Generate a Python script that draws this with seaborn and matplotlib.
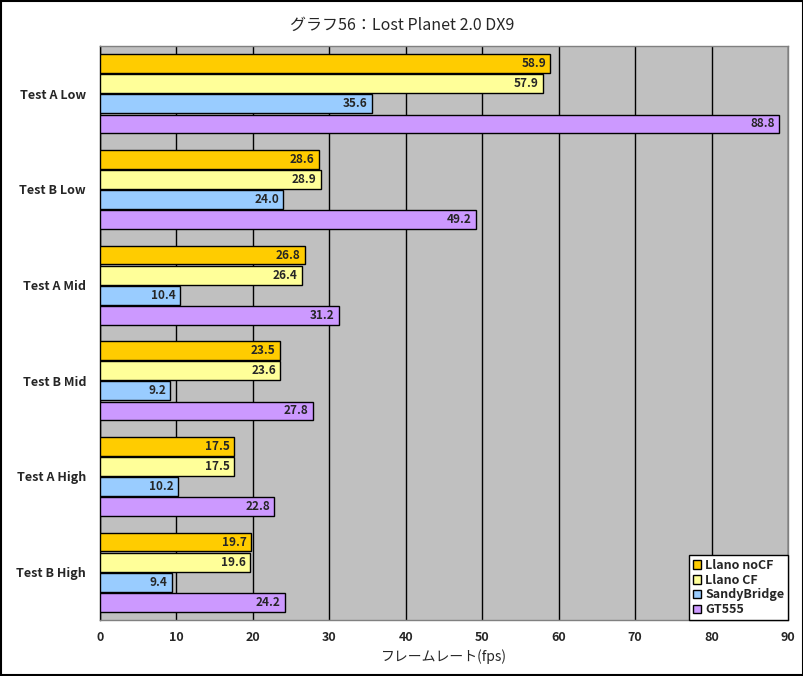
import pandas as pd
import matplotlib.pyplot as plt
import seaborn as sns
import numpy as np

# データ
tests = ["Test A Low", "Test B Low", "Test A Mid", "Test B Mid", "Test A High", "Test B High"]
series = ["Llano noCF", "Llano CF", "SandyBridge", "GT555"]
llano_nocf = [58.9, 28.6, 26.8, 23.5, 17.5, 19.7]
llano_cf = [57.9, 28.9, 26.4, 23.6, 17.5, 19.6]
sandybridge = [35.6, 24.0, 10.4, 9.2, 10.2, 9.4]
gt555 = [88.8, 49.2, 31.2, 27.8, 22.8, 24.2]
colors = ["#FFCC00", "#FFFF99", "#99CCFF", "#CC99FF"]

sns.set_theme(style="white")
plt.rcParams['font.family'] = ['Noto Sans CJK JP', 'DejaVu Sans']
plt.rcParams['axes.unicode_minus'] = False

rows = []
for name, vals in zip(series, [llano_nocf, llano_cf, sandybridge, gt555]):
    for t, v in zip(tests, vals):
        rows.append({"test": t, "series": name, "fps": v})
df = pd.DataFrame(rows)

fig = plt.figure(figsize=(8.04, 6.76), dpi=100)
ax = fig.add_axes([100/804, 1 - 620/676, 688/804, 574/676])
ax.set_facecolor("#C0C0C0")

sns.barplot(data=df, y="test", x="fps", hue="series", order=tests, hue_order=series,
            palette=colors, orient="h", width=0.84, gap=0.06, edgecolor="black",
            linewidth=1, saturation=1, errorbar=None, ax=ax, zorder=3)

# 値ラベル（バーの内側右端）
for cont in ax.containers:
    labels = ax.bar_label(cont, fmt="%.1f", padding=3, label_type="edge", fontsize=8.5,
                          fontweight="bold")
    for lbl in labels:
        lbl.set_horizontalalignment("right")
        lbl.xyann = (-3, lbl.xyann[1])

ax.set_xlim(0, 90)
ax.set_xticks(np.arange(0, 91, 10))
ax.set_ylim(len(tests) - 0.5, -0.5)
ax.xaxis.grid(True, color="black", linewidth=1, zorder=0)
ax.set_axisbelow(True)
ax.tick_params(axis="x", length=0, pad=8, labelsize=9)
ax.tick_params(axis="y", which="major", length=0, pad=10, labelsize=9)
ax.set_yticks(np.arange(-0.5, len(tests), 1), minor=True)
ax.tick_params(axis="y", which="minor", length=4, color="black", direction="out")
for lbl in ax.get_xticklabels() + ax.get_yticklabels():
    lbl.set_fontweight("bold")

for s in ax.spines.values():
    s.set_visible(True)
    s.set_color("#808080")
    s.set_linewidth(1)
ax.spines["left"].set_color("black")

ax.set_ylabel("")
ax.set_xlabel("フレームレート(fps)", fontsize=10, labelpad=4)
fig.suptitle("グラフ56：Lost Planet 2.0 DX9", y=0.975, fontsize=11.5)

leg = ax.legend(loc="lower right", borderaxespad=0, frameon=True, fancybox=False,
                fontsize=9, handlelength=0.7, handleheight=0.7, handletextpad=0.3,
                borderpad=0.3, labelspacing=0.15)
leg.get_frame().set_edgecolor("black")
leg.get_frame().set_linewidth(1)
leg.get_frame().set_alpha(1)
for t in leg.get_texts():
    t.set_fontweight("bold")

fig.patches.append(plt.Rectangle((0.001, 0.001), 0.998, 0.998, transform=fig.transFigure,
                                 fill=False, edgecolor="black", linewidth=1.5))

fig.savefig("out.png", dpi=100)
